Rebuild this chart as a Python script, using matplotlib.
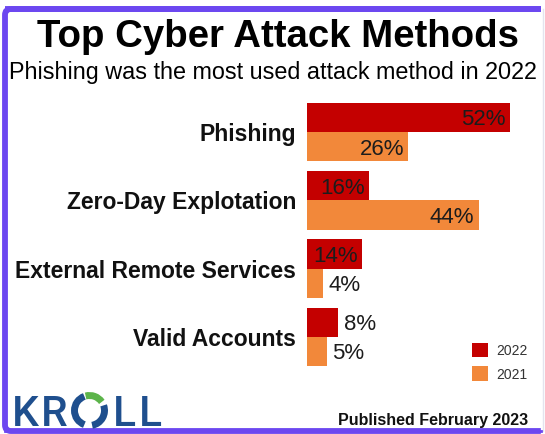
import matplotlib
matplotlib.use("Agg")
import matplotlib.pyplot as plt
from matplotlib.patches import Arc, FancyBboxPatch

categories = ["Phishing", "Zero-Day Explotation", "External Remote Services", "Valid Accounts"]
vals_2022 = [52, 16, 14, 8]
vals_2021 = [26, 44, 4, 5]
years = ["2022", "2021"]

RED = "#c40000"
ORANGE = "#f2883a"
PURPLE = "#6c47f0"
NAVY = "#1f4f8e"
GREEN = "#5cb44a"

plt.rcParams["font.family"] = ["Liberation Sans", "DejaVu Sans"]

W, H = 545, 435
fig = plt.figure(figsize=(W / 100, H / 100), dpi=100)
fig.patch.set_facecolor("white")

# overlay in pixel coords for frame, titles, logo
ov = fig.add_axes([0, 0, 1, 1])
ov.set_xlim(0, W)
ov.set_ylim(H, 0)
ov.axis("off")

# purple frame (left, top, bottom) + faint right edge
ov.add_patch(FancyBboxPatch((5, 10), 600, 422, boxstyle="round,pad=0,rounding_size=6",
                            fill=False, ec=PURPLE, lw=4.2, zorder=1))
ov.add_patch(plt.Rectangle((541, 0), 10, H, color="white", zorder=2))
ov.plot([542.5, 542.5], [10, 432], color="#e4e4ee", lw=1, zorder=3)
ov.plot([5, 541], [432, 432], color=PURPLE, lw=2, zorder=3)
ov.plot([5, 541], [10, 10], color=PURPLE, lw=4.2, zorder=3, solid_capstyle="butt")

ov.text(278, 37, "Top Cyber Attack Methods", ha="center", va="center",
        fontsize=27.6, fontweight="bold", color="black")
ov.text(273, 73, "Phishing was the most used attack method in 2022", ha="center",
        va="center", fontsize=16.8, color="black")
ov.text(528, 421, "Published February 2023", ha="right", va="center",
        fontsize=11.5, fontweight="bold", color="#111111")

# KROLL logo
for ch, x in (("K", 12), ("R", 41), ("L", 113), ("L", 139)):
    ov.text(x, 426, ch, ha="left", va="baseline", fontsize=30.5, color=NAVY,
            family=["Roboto", "DejaVu Sans"], fontweight="medium")
c = (89.5, 411.5)
ov.add_patch(Arc(c, 30, 30, theta1=110, theta2=250, color=NAVY, lw=5))
ov.add_patch(Arc(c, 30, 30, theta1=340, theta2=80, color=NAVY, lw=5))
ov.add_patch(Arc(c, 30, 30, theta1=255, theta2=325, color=GREEN, lw=5))

# bar chart
left_px, right_px, top_px, bot_px = 307, 541, 99, 372
ax = fig.add_axes([left_px / W, 1 - bot_px / H, (right_px - left_px) / W,
                   (bot_px - top_px) / H])
ax.set_xlim(0, (right_px - left_px) / 3.9)
ax.set_ylim(len(categories) - 0.5, -0.5)
ax.axis("off")

pos = list(range(len(categories)))
h = 0.43
off = 0.215
b22 = ax.barh([p - off for p in pos], vals_2022, height=h, color=RED, label=years[0])
b21 = ax.barh([p + off for p in pos], vals_2021, height=h, color=ORANGE, label=years[1])

for bars, vals in ((b22, vals_2022), (b21, vals_2021)):
    for rect, v in zip(bars, vals):
        y = rect.get_y() + rect.get_height() / 2
        if v >= 10:
            ax.annotate(f"{v}%", (v, y), xytext=(-3, -1), textcoords="offset points",
                        ha="right", va="center", fontsize=16, color="#1c1c1c")
        else:
            ax.annotate(f"{v}%", (v, y), xytext=(4, -1), textcoords="offset points",
                        ha="left", va="center", fontsize=16, color="#1c1c1c")

for p, c in zip(pos, categories):
    ax.annotate(c, (0, p), xytext=(-8, -1), textcoords="offset points",
                ha="right", va="center", fontsize=16.5, fontweight="bold",
                color="#111111", annotation_clip=False)

leg = fig.legend(handles=[b22, b21], labels=years, loc="upper left",
                 bbox_to_anchor=(459 / W, 1 - 331 / H), frameon=False,
                 fontsize=10, handlelength=1.2, handleheight=1.2,
                 handletextpad=0.6, labelspacing=0.65, labelcolor="#333333")

fig.savefig("out.png", dpi=100, facecolor="white")
